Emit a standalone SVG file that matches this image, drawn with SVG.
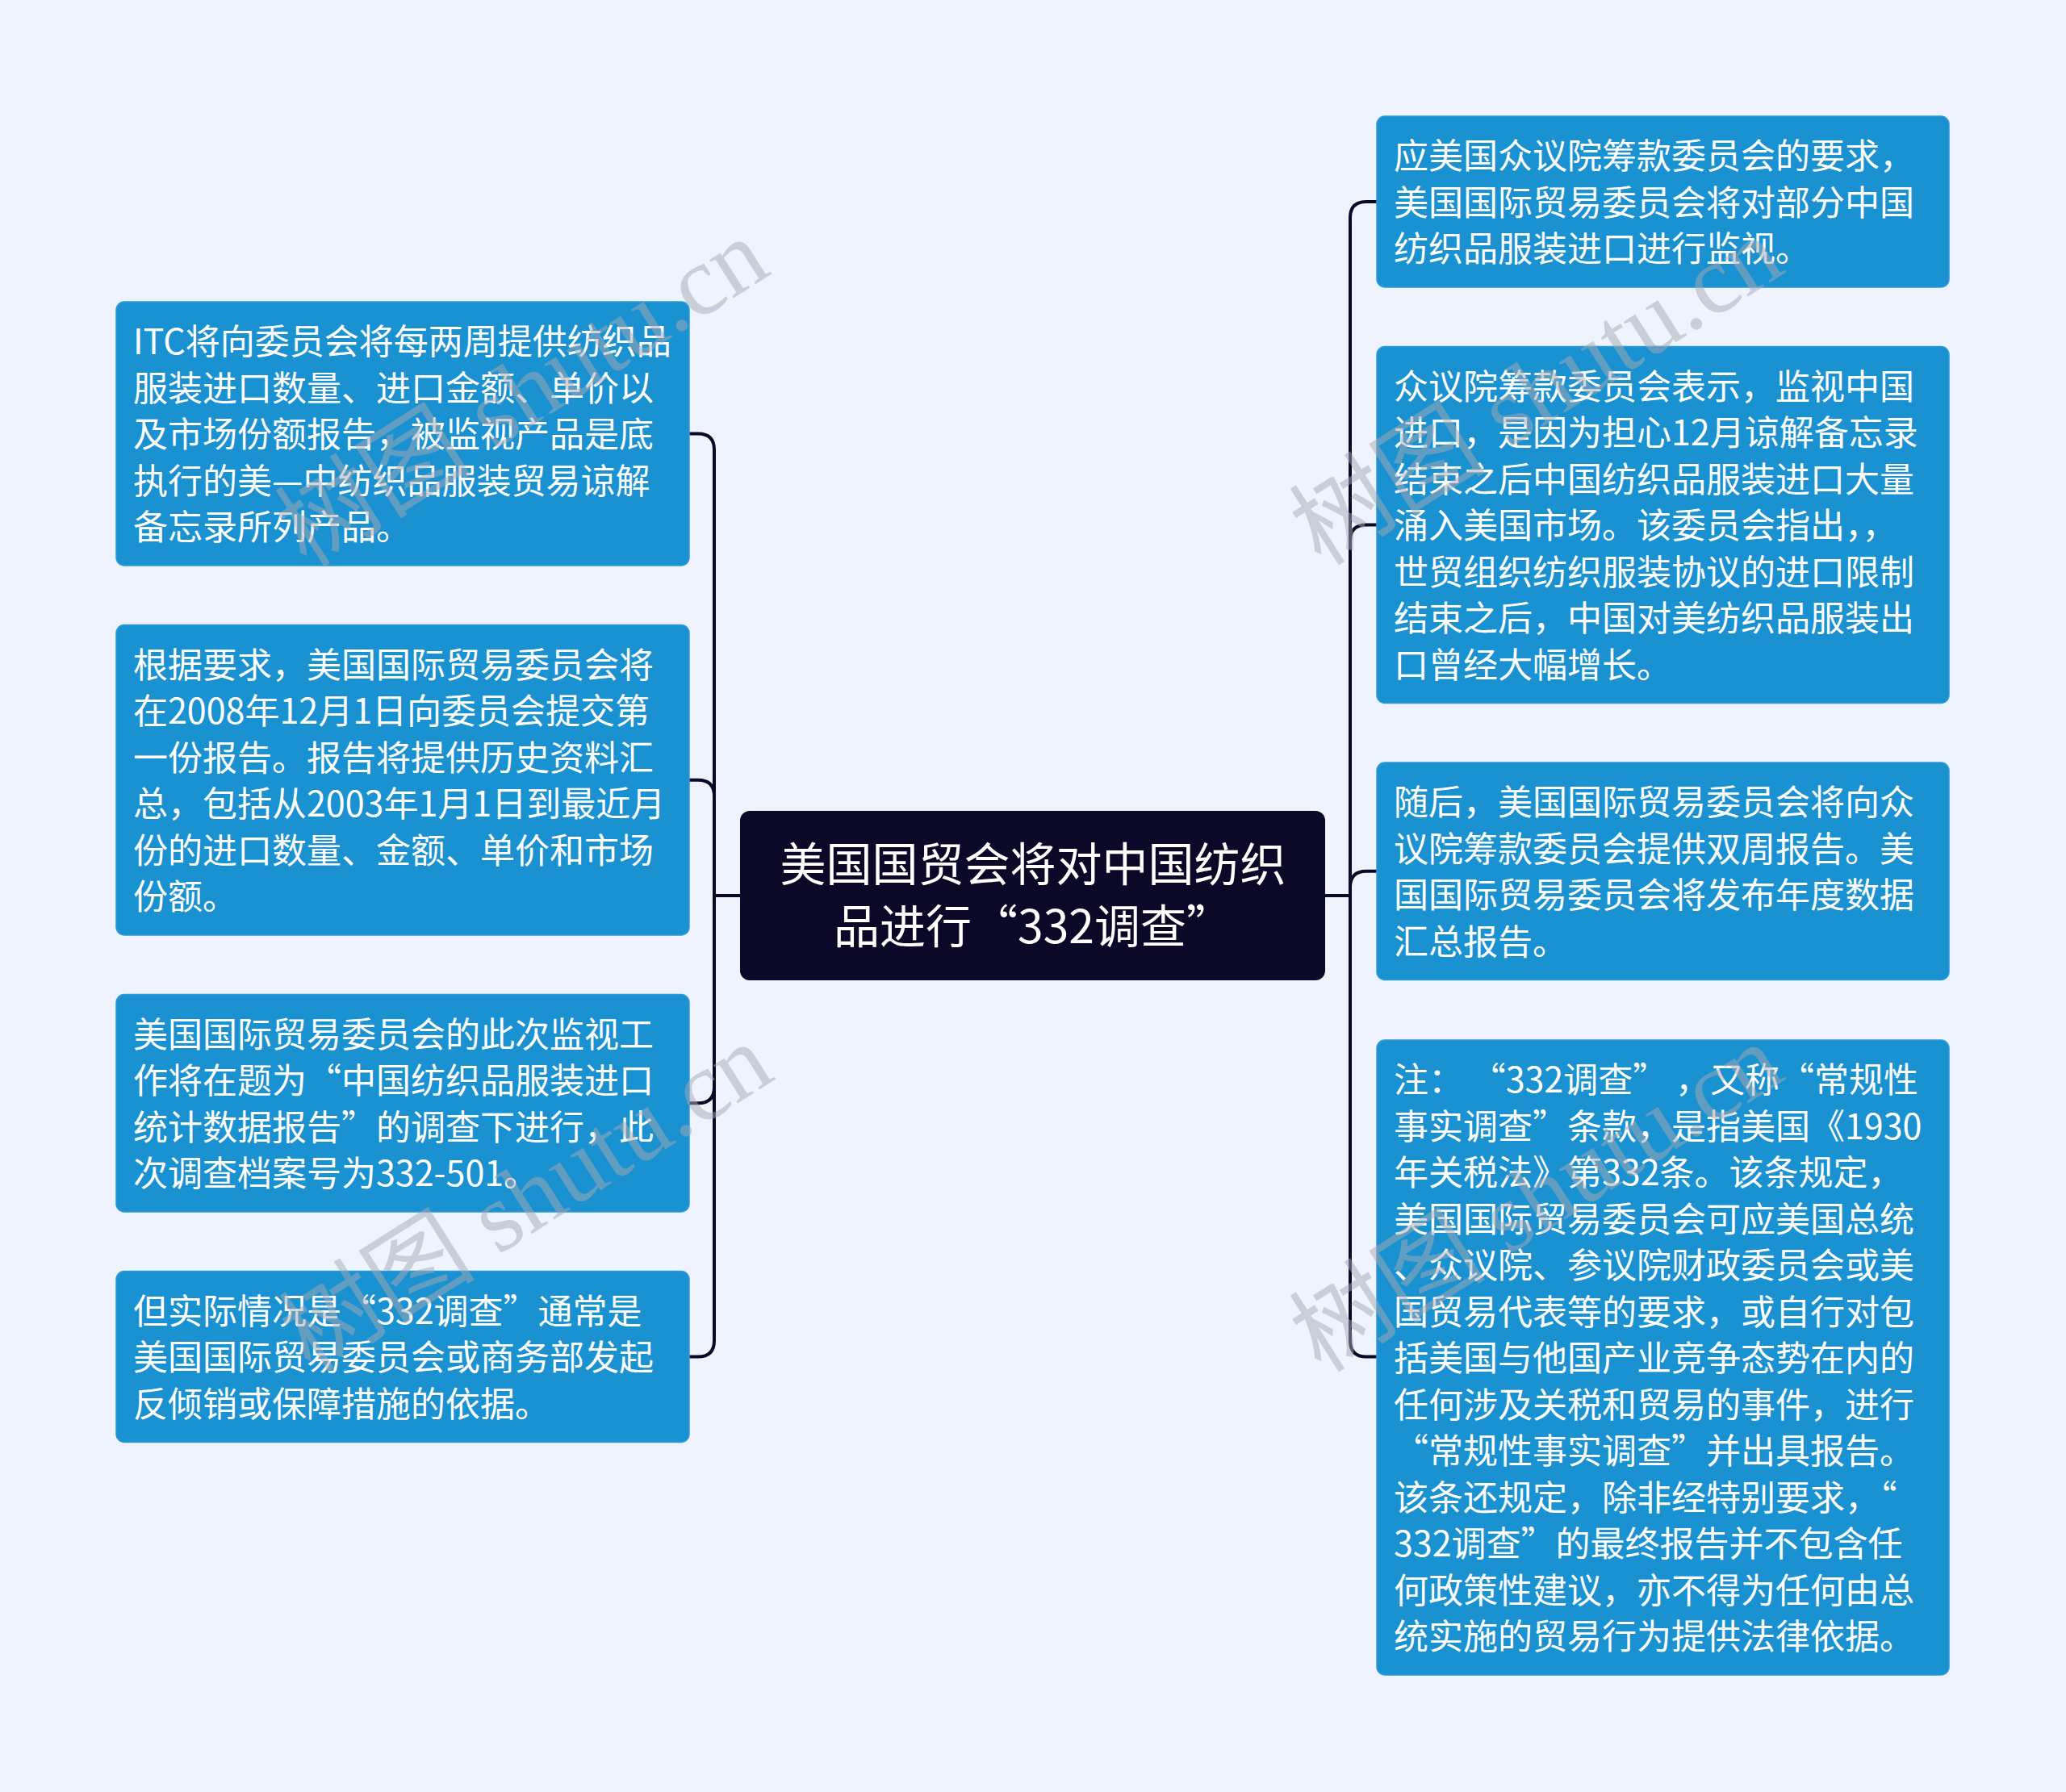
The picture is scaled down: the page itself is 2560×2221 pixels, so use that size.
<svg xmlns="http://www.w3.org/2000/svg" width="2560" height="2221" viewBox="0 0 2560 2221">
<style>
.bg{fill:#eef3fd}
.node rect{fill:#1a91d1;stroke:#2a9ad8;stroke-width:1.5}
.node text{fill:#ffffff;font-family:"Noto Sans CJK SC","Noto Sans",sans-serif;font-size:43px}
.root rect{fill:#0b0828}
.root text{fill:#ffffff;font-family:"Noto Sans CJK SC","Noto Sans",sans-serif;font-size:57px;text-anchor:middle}
.fw{font-feature-settings:"fwid" 1}
.links path{fill:none;stroke:#0b0828;stroke-width:4;stroke-linejoin:round}
.wm{fill:#a8aab2;opacity:0.5;font-family:"Liberation Serif","Noto Sans CJK SC",serif;font-size:122px}
</style>
<rect class="bg" x="0" y="0" width="2560" height="2221"/>
<g class="links" id="connectors">
<path d="M917,1110 H885 V557.5 Q885,537.5 865,537.5 H854"/>
<path d="M917,1110 H885 V986.75 Q885,966.75 865,966.75 H854"/>
<path d="M917,1110 H885 V1347.25 Q885,1367.25 865,1367.25 H854"/>
<path d="M917,1110 H885 V1661.5 Q885,1681.5 865,1681.5 H854"/>
<path d="M1642,1110 H1673 V270 Q1673,250 1693,250 H1706"/>
<path d="M1642,1110 H1673 V670.5 Q1673,650.5 1693,650.5 H1706"/>
<path d="M1642,1110 H1673 V1099.75 Q1673,1079.75 1693,1079.75 H1706"/>
<path d="M1642,1110 H1673 V1661.5 Q1673,1681.5 1693,1681.5 H1706"/>
</g>
<g class="root" id="root">
<rect x="917" y="1005" width="725" height="210" rx="12"/>
<text x="1280" y="1092">美国国贸会将对中国纺织</text>
<text x="1280" y="1169">品进行<tspan class="fw">“</tspan>332调查<tspan class="fw">”</tspan></text>
</g>
<g class="node" id="L1">
<rect x="144" y="374" width="710" height="327" rx="10"/>
<text x="165" y="439">ITC将向委员会将每两周提供纺织品<tspan x="165" dy="57.5">服装进口数量、进口金额、单价以</tspan><tspan x="165" dy="57.5">及市场份额报告，被监视产品是底</tspan><tspan x="165" dy="57.5">执行的美—中纺织品服装贸易谅解</tspan><tspan x="165" dy="57.5">备忘录所列产品。</tspan></text>
</g>
<g class="node" id="L2">
<rect x="144" y="774.5" width="710" height="384.5" rx="10"/>
<text x="165" y="839.5">根据要求，美国国际贸易委员会将<tspan x="165" dy="57.5">在2008年12月1日向委员会提交第</tspan><tspan x="165" dy="57.5">一份报告。报告将提供历史资料汇</tspan><tspan x="165" dy="57.5">总，包括从2003年1月1日到最近月</tspan><tspan x="165" dy="57.5">份的进口数量、金额、单价和市场</tspan><tspan x="165" dy="57.5">份额。</tspan></text>
</g>
<g class="node" id="L3">
<rect x="144" y="1232.5" width="710" height="269.5" rx="10"/>
<text x="165" y="1297.5">美国国际贸易委员会的此次监视工<tspan x="165" dy="57.5">作将在题为<tspan class="fw">“</tspan>中国纺织品服装进口</tspan><tspan x="165" dy="57.5">统计数据报告<tspan class="fw">”</tspan>的调查下进行，此</tspan><tspan x="165" dy="57.5">次调查档案号为332-501。</tspan></text>
</g>
<g class="node" id="L4">
<rect x="144" y="1575.5" width="710" height="212" rx="10"/>
<text x="165" y="1640.5">但实际情况是<tspan class="fw">“</tspan>332调查<tspan class="fw">”</tspan>通常是<tspan x="165" dy="57.5">美国国际贸易委员会或商务部发起</tspan><tspan x="165" dy="57.5">反倾销或保障措施的依据。</tspan></text>
</g>
<g class="node" id="R1">
<rect x="1706" y="144" width="709" height="212" rx="10"/>
<text x="1727" y="209">应美国众议院筹款委员会的要求，<tspan x="1727" dy="57.5">美国国际贸易委员会将对部分中国</tspan><tspan x="1727" dy="57.5">纺织品服装进口进行监视。</tspan></text>
</g>
<g class="node" id="R2">
<rect x="1706" y="429.5" width="709" height="442" rx="10"/>
<text x="1727" y="494.5">众议院筹款委员会表示，监视中国<tspan x="1727" dy="57.5">进口，是因为担心12月谅解备忘录</tspan><tspan x="1727" dy="57.5">结束之后中国纺织品服装进口大量</tspan><tspan x="1727" dy="57.5">涌入美国市场。该委员会指出，，</tspan><tspan x="1727" dy="57.5">世贸组织纺织服装协议的进口限制</tspan><tspan x="1727" dy="57.5">结束之后，中国对美纺织品服装出</tspan><tspan x="1727" dy="57.5">口曾经大幅增长。</tspan></text>
</g>
<g class="node" id="R3">
<rect x="1706" y="945" width="709" height="269.5" rx="10"/>
<text x="1727" y="1010">随后，美国国际贸易委员会将向众<tspan x="1727" dy="57.5">议院筹款委员会提供双周报告。美</tspan><tspan x="1727" dy="57.5">国国际贸易委员会将发布年度数据</tspan><tspan x="1727" dy="57.5">汇总报告。</tspan></text>
</g>
<g class="node" id="R4">
<rect x="1706" y="1289" width="709" height="787" rx="10"/>
<text x="1727" y="1354">注： <tspan class="fw">“</tspan>332调查<tspan class="fw">”</tspan> ，又称<tspan class="fw">“</tspan>常规性<tspan x="1727" dy="57.5">事实调查<tspan class="fw">”</tspan>条款，是指美国《1930</tspan><tspan x="1727" dy="57.5">年关税法》第332条。该条规定，</tspan><tspan x="1727" dy="57.5">美国国际贸易委员会可应美国总统</tspan><tspan x="1727" dy="57.5">、众议院、参议院财政委员会或美</tspan><tspan x="1727" dy="57.5">国贸易代表等的要求，或自行对包</tspan><tspan x="1727" dy="57.5">括美国与他国产业竞争态势在内的</tspan><tspan x="1727" dy="57.5">任何涉及关税和贸易的事件，进行</tspan><tspan x="1727" dy="57.5"><tspan class="fw">“</tspan>常规性事实调查<tspan class="fw">”</tspan>并出具报告。</tspan><tspan x="1727" dy="57.5">该条还规定，除非经特别要求，<tspan class="fw">“</tspan></tspan><tspan x="1727" dy="57.5">332调查<tspan class="fw">”</tspan>的最终报告并不包含任</tspan><tspan x="1727" dy="57.5">何政策性建议，亦不得为任何由总</tspan><tspan x="1727" dy="57.5">统实施的贸易行为提供法律依据。</tspan></text>
</g>
<g id="watermarks">
<text class="wm" transform="translate(380,705) rotate(-32.4)">树图 shutu.cn</text>
<text class="wm" transform="translate(1637,703) rotate(-32.4)">树图 shutu.cn</text>
<text class="wm" transform="translate(385,1703) rotate(-32.4)">树图 shutu.cn</text>
<text class="wm" transform="translate(1637,1703) rotate(-32.4)">树图 shutu.cn</text>
</g>
</svg>
